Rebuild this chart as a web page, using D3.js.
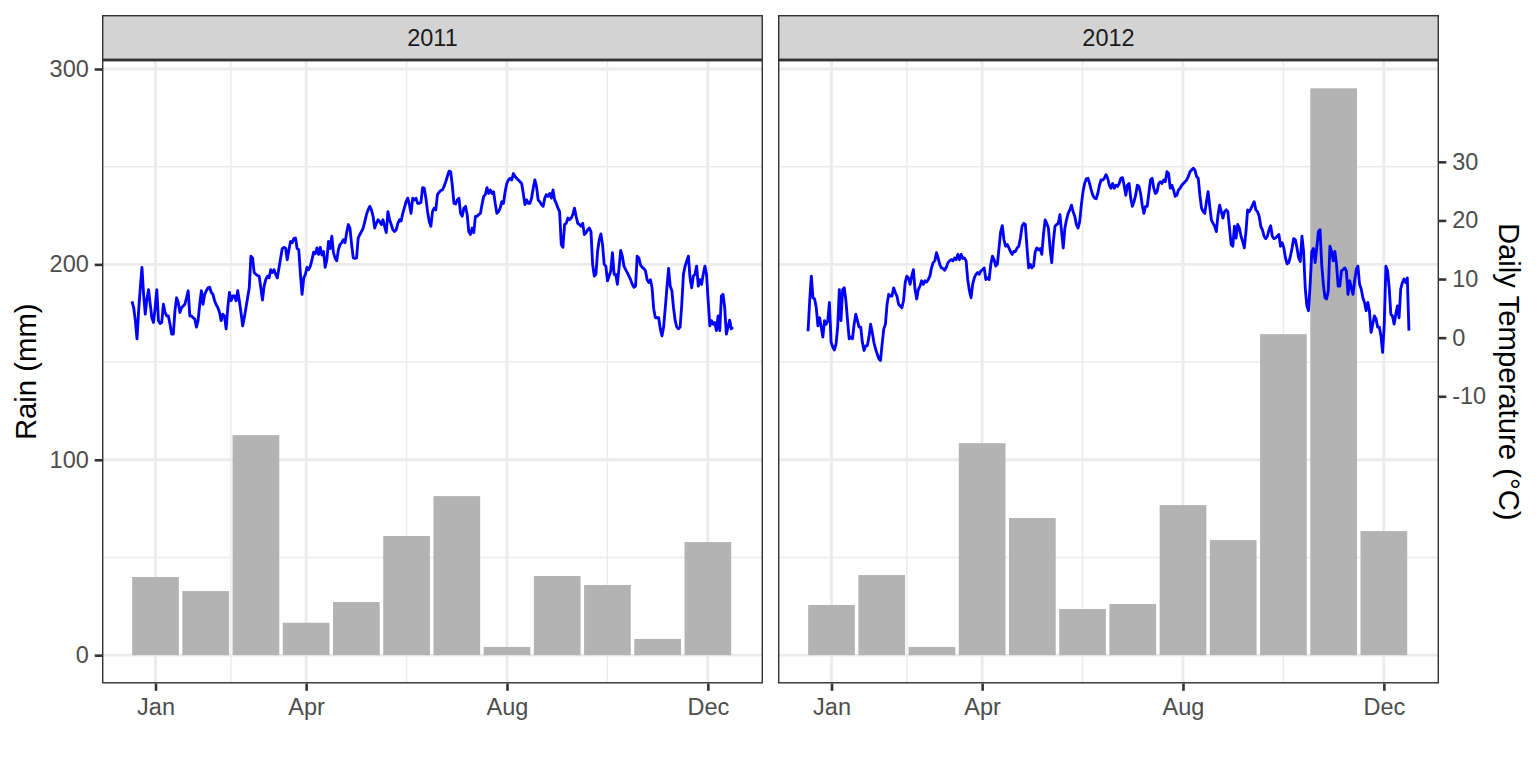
<!DOCTYPE html>
<meta charset="utf-8">
<style>
    body {
        margin: 0;
        background: #ffffff;
    }
</style>
<body>
<div id="chart"></div>

<script src="https://cdnjs.cloudflare.com/ajax/libs/d3/7.8.5/d3.min.js"></script>
<script>
  // facets
  var years = [2011, 2012];
  var monthNames = ["Jan", "Feb", "Mar", "Apr", "May", "Jun", "Jul", "Aug", "Sep", "Oct", "Nov", "Dec"];

  // monthly rain (mm), Jan..Dec
  var rain2011 = [40.0, 32.8, 112.6, 16.6, 27.2, 61.0, 81.4, 4.2, 40.5, 35.9, 8.3, 57.9];
  var rain2012 = [25.7, 41.0, 4.2, 108.5, 70.2, 23.6, 26.2, 76.8, 58.9, 164.3, 290.1, 63.5];

  // daily temperature (deg C), index = day of the year
  var temp2011 = [
    6.2, 5.1, 2.9, -0.2, 4.6, 8.5, 12.0, 7.4, 4.0, 6.6,
    8.2, 5.7, 3.4, 2.6, 5.1, 8.2, 2.9, 2.4, 2.6, 5.7,
    4.3, 3.7, 3.7, 2.3, 0.6, 0.6, 4.6, 6.8, 6.0, 4.3,
    5.1, 5.4, 5.7, 6.8, 8.0, 3.7, 3.7, 3.4, 3.2, 1.8,
    2.9, 5.7, 8.0, 5.7, 7.4, 8.0, 8.5, 8.6, 7.7, 7.4,
    6.3, 5.6, 5.1, 4.3, 2.9, 4.0, 3.7, 1.5, 5.1, 7.7,
    6.3, 7.1, 7.1, 6.3, 8.0, 6.3, 4.3, 2.0, 3.4, 5.1,
    6.8, 8.5, 13.9, 13.6, 11.1, 10.8, 10.6, 10.5, 8.5, 6.4,
    8.8, 9.9, 10.5, 10.2, 11.6, 11.1, 11.6, 10.8, 10.2, 11.9,
    13.6, 15.2, 15.4, 15.3, 13.3, 15.0, 16.4, 16.2, 16.9, 17.0,
    15.2, 15.0, 10.8, 7.4, 10.2, 10.8, 12.0, 11.6, 12.2, 13.3,
    14.6, 14.3, 15.3, 14.2, 15.4, 14.1, 14.7, 12.0, 13.3, 16.4,
    15.2, 17.3, 14.5, 13.6, 13.1, 15.0, 15.9, 16.2, 16.7, 16.2,
    17.9, 19.3, 18.7, 15.9, 13.6, 13.5, 13.6, 17.0, 17.6, 18.1,
    18.7, 19.8, 21.0, 21.8, 22.4, 21.8, 20.7, 18.7, 19.5, 20.1,
    19.8, 19.3, 20.1, 19.0, 17.9, 21.5, 20.1, 19.3, 18.4, 18.1,
    18.4, 19.5, 20.1, 19.9, 21.2, 22.2, 23.2, 23.8, 22.7, 21.2,
    23.8, 23.5, 23.8, 22.9, 22.9, 23.1, 25.6, 25.5, 23.8, 21.5,
    19.8, 19.0, 21.5, 22.1, 21.8, 24.4, 24.8, 25.1, 25.2, 25.8,
    26.6, 27.5, 28.4, 28.3, 26.0, 22.9, 22.8, 23.5, 23.8, 21.2,
    20.7, 22.1, 22.4, 21.0, 18.1, 17.6, 18.7, 17.9, 20.7, 20.7,
    21.0, 21.2, 22.7, 24.1, 24.4, 25.6, 24.6, 25.2, 24.6, 24.9,
    22.9, 21.2, 21.5, 22.1, 23.2, 22.9, 24.9, 26.3, 26.9, 27.2,
    26.9, 28.0, 27.5, 27.2, 26.9, 26.6, 26.3, 24.6, 22.7, 23.5,
    22.9, 22.9, 23.8, 25.5, 26.9, 25.8, 23.5, 23.2, 22.7, 22.4,
    23.8, 24.4, 24.1, 24.6, 23.8, 25.2, 23.5, 22.9, 22.1, 21.5,
    15.9, 15.4, 19.3, 19.5, 20.4, 20.1, 20.4, 21.0, 22.1, 20.7,
    19.5, 19.3, 19.0, 19.5, 17.6, 17.9, 18.4, 18.7, 18.1, 12.5,
    10.5, 10.8, 14.7, 16.7, 17.7, 15.9, 12.5, 12.2, 9.7, 10.5,
    11.4, 14.5, 10.8, 10.8, 9.1, 11.9, 14.9, 13.9, 12.2, 11.6,
    11.1, 10.5, 9.9, 9.1, 8.6, 8.8, 13.9, 13.6, 12.4, 12.0,
    11.8, 11.4, 9.9, 9.4, 9.9, 8.5, 4.9, 3.4, 3.4, 3.4,
    1.5, 0.3, 1.8, 5.1, 8.5, 11.8, 8.8, 8.0, 5.1, 2.9,
    1.8, 1.5, 1.8, 5.7, 10.8, 12.2, 13.1, 13.9, 10.2, 8.5,
    10.5, 10.8, 12.2, 8.8, 9.9, 9.1, 10.8, 12.2, 10.8, 6.3,
    2.0, 2.9, 2.3, 2.6, 1.2, 3.7, 1.2, 7.1, 7.4, 5.1,
    0.6, 1.8, 3.0, 1.5, 1.8
  ];

  var temp2012 = [
    1.1, 6.3, 10.5, 6.8, 6.6, 5.1, 2.0, 3.4, 1.8, 0.1,
    2.9, 2.3, 2.9, 6.0, -0.8, -1.6, -2.1, -1.1, 1.8, 8.2,
    2.9, 8.2, 8.5, 6.3, 2.9, -0.2, 0.1, -0.2, 2.3, 4.0,
    2.9, 1.8, 1.8, -0.8, -2.2, -1.4, -1.4, 0.1, 2.3, 0.9,
    -0.8, -1.9, -2.8, -3.6, -3.9, -1.1, 1.5, 2.3, 5.7, 7.4,
    7.1, 7.1, 8.5, 7.7, 7.1, 5.7, 5.4, 5.1, 6.3, 9.4,
    10.5, 10.2, 9.1, 10.5, 11.6, 8.2, 6.6, 8.2, 8.8, 9.7,
    9.1, 9.7, 9.5, 9.9, 10.5, 11.9, 12.8, 13.1, 14.5, 13.6,
    12.5, 11.9, 11.8, 11.5, 12.0, 12.8, 13.1, 13.3, 13.1, 13.6,
    13.3, 14.2, 13.3, 14.2, 13.5, 13.6, 13.1, 9.9, 8.0, 6.8,
    9.1, 10.2, 10.8, 11.1, 10.8, 11.4, 11.6, 11.9, 9.9, 10.2,
    9.9, 12.5, 13.9, 13.3, 12.2, 12.5, 15.3, 18.1, 19.1, 16.7,
    15.6, 15.9, 15.3, 14.7, 14.2, 14.7, 14.7, 15.3, 15.6, 17.0,
    19.0, 19.5, 19.3, 15.3, 11.9, 12.5, 11.9, 12.2, 14.7, 15.3,
    15.0, 15.2, 14.2, 17.6, 20.1, 19.5, 18.7, 15.3, 12.8, 16.4,
    19.0, 19.3, 19.5, 21.0, 18.1, 15.3, 18.7, 20.1, 21.2, 21.8,
    22.6, 21.5, 20.7, 19.3, 18.7, 19.8, 22.6, 24.9, 26.3, 27.1,
    27.2, 26.3, 25.2, 24.3, 23.8, 23.7, 24.6, 26.0, 26.9, 26.9,
    27.2, 27.8, 27.2, 26.0, 25.5, 26.3, 25.5, 26.0, 25.8, 26.3,
    27.2, 27.3, 26.0, 24.3, 26.0, 26.3, 23.8, 22.4, 23.2, 24.3,
    26.0, 25.8, 24.6, 22.6, 21.2, 22.4, 22.4, 24.6, 26.9, 27.2,
    25.5, 24.6, 24.9, 26.3, 26.6, 26.3, 26.9, 26.6, 28.3, 28.0,
    25.5, 26.0, 25.2, 24.1, 24.3, 25.2, 25.5, 26.0, 26.3, 26.6,
    26.9, 27.5, 28.3, 28.6, 28.9, 28.6, 27.5, 27.2, 24.3, 22.1,
    21.5, 21.2, 23.2, 24.9, 22.4, 20.1, 19.5, 19.0, 18.1, 20.9,
    22.6, 21.5, 20.4, 21.5, 21.8, 21.5, 18.7, 15.9, 15.6, 19.0,
    17.0, 19.3, 18.7, 17.3, 16.4, 15.3, 18.1, 21.8, 21.5, 22.0,
    22.6, 23.2, 21.8, 21.5, 20.7, 19.0, 18.4, 17.3, 16.9, 17.3,
    18.4, 19.1, 17.3, 16.9, 17.0, 17.3, 17.6, 15.6, 16.2, 15.3,
    13.6, 12.6, 12.8, 13.9, 15.3, 16.9, 16.7, 15.3, 13.6, 13.0,
    17.3, 14.7, 8.5, 5.4, 4.6, 9.1, 14.7, 15.2, 12.8, 15.3,
    18.1, 18.4, 12.5, 9.1, 6.8, 6.6, 8.0, 15.6, 14.7, 13.1,
    14.7, 12.5, 8.8, 8.8, 11.4, 11.6, 11.9, 11.4, 7.4, 9.7,
    8.5, 7.4, 9.7, 11.6, 12.2, 9.1, 8.3, 6.8, 6.0, 4.6,
    6.0, 4.6, 0.9, 2.3, 3.7, 3.2, 1.8, 1.8, 0.3, -2.5,
    2.3, 12.2, 11.4, 8.5, 4.0, 3.7, 2.3, 4.0, 5.4, 3.4,
    8.3, 9.4, 10.0, 9.4, 10.2, 1.2
  ];

  // axis breaks (x in month units, 1 = Jan)
  var xTickMonths = [1, 4, 8, 12];
  var rainTicks = [0, 100, 200, 300];
  var tempTicks = [-10, 0, 10, 20, 30];

  // secondary axis: rain = temp * 3 + 162.5
  var tempMult = 3, tempShift = 162.5;

  var rainByYear = [rain2011, rain2012];
  var tempByYear = [temp2011, temp2012];

  // layout
  var width = 1536, height = 768;
  var font = '"Liberation Sans", Arial, Helvetica, sans-serif';
  var stripTop = 15, panelTop = 60, panelBottom = 683.5;
  var panelLefts = [102, 778], panelWidth = 661;
  var tickLen = 7.3, tickPad = 5.9;
  var barWidth = 0.93; // in months

  var svg = d3.select("#chart")
    .append("svg")
    .attr("width", width)
    .attr("height", height)
    .style("display", "block");

  svg.append("rect").attr("width", width).attr("height", height).attr("fill", "#ffffff");

  // shared y scale (rain), 5% expansion like ggplot
  var allRain = rain2011.concat(rain2012);
  var allTempRain = temp2011.concat(temp2012).map(function (t) { return t * tempMult + tempShift; });
  var lo = Math.min(0, d3.min(allRain), d3.min(allTempRain));
  var hi = Math.max(d3.max(allRain), d3.max(allTempRain));
  var yPad = (hi - lo) * 0.05;
  var y = d3.scaleLinear().domain([lo - yPad, hi + yPad]).range([panelBottom, panelTop]);

  var yTemp = d3.scaleLinear()
    .domain(y.domain().map(function (r) { return (r - tempShift) / tempMult; }))
    .range(y.range());

  var yMinor = [];
  for (var k = 0; k < rainTicks.length - 1; k++) yMinor.push((rainTicks[k] + rainTicks[k + 1]) / 2);

  function styleAxis(g) {
    g.select(".domain").remove();
    g.attr("font-family", font).attr("font-size", 23.5);
    g.selectAll(".tick line").attr("stroke", "#333333").attr("stroke-width", 2.6);
    g.selectAll(".tick text").attr("fill", "#4D4D4D");
  }

  years.forEach(function (year, i) {
    var x0 = panelLefts[i], x1 = x0 + panelWidth;
    var temps = tempByYear[i];
    var rains = rainByYear[i];
    var n = temps.length;

    // day of year -> month position (months centred on 1..12)
    var series = temps.map(function (t, d) { return { pos: 0.5 + (d + 1) * 12 / n, t: t }; });
    var ext = d3.extent(series, function (d) { return d.pos; });
    var span = ext[1] - ext[0];
    var x = d3.scaleLinear()
      .domain([ext[0] - span * 0.05, ext[1] + span * 0.05])
      .range([x0, x1]);

    var xMinor = [];
    for (var j = 0; j < xTickMonths.length - 1; j++) {
      xMinor.push((xTickMonths[j] + xTickMonths[j + 1]) / 2);
    }

    var panel = svg.append("g");

    // grid
    panel.selectAll(".vminor").data(xMinor).enter().append("line")
      .attr("x1", function (d) { return x(d); }).attr("x2", function (d) { return x(d); })
      .attr("y1", panelTop).attr("y2", panelBottom)
      .attr("stroke", "#EBEBEB").attr("stroke-width", 1.42);
    panel.selectAll(".hminor").data(yMinor).enter().append("line")
      .attr("x1", x0).attr("x2", x1)
      .attr("y1", function (d) { return y(d); }).attr("y2", function (d) { return y(d); })
      .attr("stroke", "#EBEBEB").attr("stroke-width", 1.42);
    panel.selectAll(".vmajor").data(xTickMonths).enter().append("line")
      .attr("x1", function (d) { return x(d); }).attr("x2", function (d) { return x(d); })
      .attr("y1", panelTop).attr("y2", panelBottom)
      .attr("stroke", "#EBEBEB").attr("stroke-width", 2.84);
    panel.selectAll(".hmajor").data(rainTicks).enter().append("line")
      .attr("x1", x0).attr("x2", x1)
      .attr("y1", function (d) { return y(d); }).attr("y2", function (d) { return y(d); })
      .attr("stroke", "#EBEBEB").attr("stroke-width", 2.84);

    // monthly rain bars
    var bars = rains.map(function (r, m) { return { month: m + 1, rain: r }; });
    panel.selectAll(".bar").data(bars).enter().append("rect")
      .attr("x", function (d) { return x(d.month - barWidth / 2); })
      .attr("width", function (d) { return x(d.month + barWidth / 2) - x(d.month - barWidth / 2); })
      .attr("y", function (d) { return y(d.rain); })
      .attr("height", function (d) { return y(0) - y(d.rain); })
      .attr("fill", "#B3B3B3");

    // daily temperature line on the rain scale
    var line = d3.line()
      .x(function (d) { return x(d.pos); })
      .y(function (d) { return y(d.t * tempMult + tempShift); });
    panel.append("path")
      .datum(series)
      .attr("d", line)
      .attr("fill", "none")
      .attr("stroke", "#0000FF")
      .attr("stroke-width", 2.84)
      .attr("stroke-linejoin", "round")
      .attr("stroke-linecap", "butt");

    // panel border
    panel.append("rect")
      .attr("x", x0 + 0.71).attr("y", panelTop + 0.71)
      .attr("width", panelWidth - 1.42).attr("height", panelBottom - panelTop - 1.42)
      .attr("fill", "none").attr("stroke", "#333333").attr("stroke-width", 1.42);

    // strip
    panel.append("rect")
      .attr("x", x0 + 0.71).attr("y", stripTop + 0.71)
      .attr("width", panelWidth - 1.42).attr("height", panelTop - stripTop - 1.42)
      .attr("fill", "#D3D3D3").attr("stroke", "#333333").attr("stroke-width", 1.42);
    panel.append("text")
      .attr("x", (x0 + x1) / 2).attr("y", (stripTop + panelTop) / 2)
      .attr("dy", "0.36em")
      .attr("text-anchor", "middle")
      .attr("font-family", font).attr("font-size", 23.5)
      .attr("fill", "#1A1A1A")
      .text(year);

    // x axis
    svg.append("g")
      .attr("transform", "translate(0," + panelBottom + ")")
      .call(d3.axisBottom(x).tickValues(xTickMonths)
        .tickFormat(function (m) { return monthNames[m - 1]; })
        .tickSize(tickLen).tickPadding(tickPad + 1.5))
      .call(styleAxis);

    if (i === 0) {
      svg.append("g")
        .attr("transform", "translate(" + x0 + ",0)")
        .call(d3.axisLeft(y).tickValues(rainTicks).tickSize(tickLen).tickPadding(tickPad))
        .call(styleAxis);
    } else {
      svg.append("g")
        .attr("transform", "translate(" + x1 + ",0)")
        .call(d3.axisRight(yTemp).tickValues(tempTicks)
          .tickFormat(function (t) { return String(t); })
          .tickSize(tickLen).tickPadding(tickPad))
        .call(styleAxis);
    }
  });

  // axis titles
  var midY = (panelTop + panelBottom) / 2;
  svg.append("text")
    .attr("transform", "translate(36," + midY + ") rotate(-90)")
    .attr("text-anchor", "middle")
    .attr("font-family", font).attr("font-size", 29.3)
    .attr("fill", "#000000")
    .text("Rain (mm)");

  svg.append("text")
    .attr("transform", "translate(1499," + midY + ") rotate(90)")
    .attr("text-anchor", "middle")
    .attr("font-family", font).attr("font-size", 29.3)
    .attr("fill", "#000000")
    .text("Daily Temperature (°C)");
</script>
</body>
